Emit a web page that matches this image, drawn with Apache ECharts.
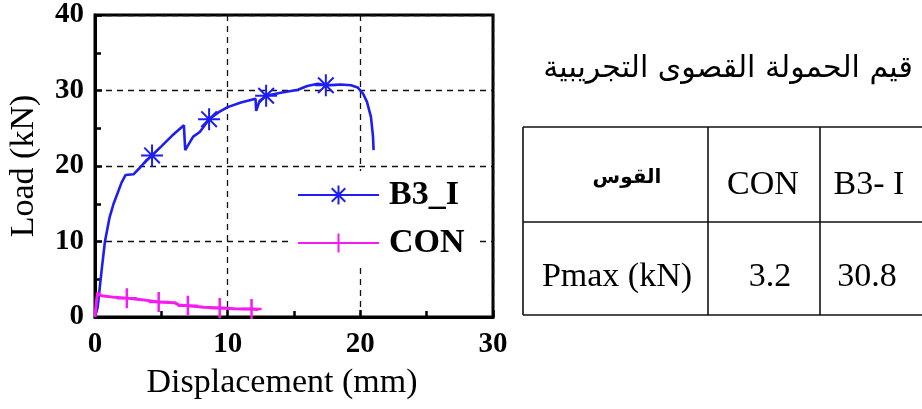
<!DOCTYPE html>
<html>
<head>
<meta charset="utf-8">
<script src="https://cdn.jsdelivr.net/npm/echarts@6/dist/echarts.min.js"></script>
<style>
html,body{margin:0;padding:0;background:#fff;}
#chart{width:922px;height:409px;}
</style>
</head>
<body>
<div id="chart"></div>
<script>
// ---- Data ----
const b3Disp = [0, 0.2, 0.5, 0.75, 1.1, 1.4, 1.7, 2.0, 2.3, 2.9, 3.4, 3.9, 4.3, 5.0, 5.8, 6.7, 6.8, 7.4, 7.9, 8.6, 9.3, 10.0, 11.0, 12.1, 12.15, 12.4, 12.9, 14.0, 15.3, 16.0, 16.8, 17.4, 18.5, 19.3, 19.8, 20.2, 20.5, 20.8, 20.95, 21.0];
const b3Load = [0, 1.3, 6.2, 10.0, 13.2, 15.0, 16.4, 17.8, 18.8, 18.9, 19.8, 20.8, 21.4, 22.6, 24.0, 25.4, 22.1, 23.9, 24.5, 26.2, 27.1, 27.8, 28.4, 28.9, 27.3, 28.6, 29.3, 29.7, 30.1, 30.6, 30.9, 30.7, 30.8, 30.7, 30.4, 29.6, 28.5, 26.5, 24.0, 22.1];
const b3MarkerIdx = [12, 19, 26, 31];

const conDisp = [0, 0.1, 0.2, 0.5, 1.5, 2.4, 3.5, 4.8, 6.0, 6.3, 7.0, 8.2, 9.4, 10.5, 11.8, 12.3];
const conLoad = [0, 2.0, 3.2, 2.8, 2.6, 2.5, 2.3, 2.0, 1.9, 1.6, 1.5, 1.3, 1.2, 1.1, 1.05, 1.0];
const conMarkerIdx = [5, 7, 10, 12, 14];

const xTicks = [0, 10, 20, 30];
const yTicks = [0, 10, 20, 30, 40];

const seriesNames = ['B3_I', 'CON'];
const tableTitle = 'قيم الحمولة القصوى التجريبية';
const tableHeader = ['القوس', 'CON', 'B3- I'];
const tableRow = ['Pmax (kN)', '3.2', '30.8'];

// ---- Build ----
const SERIF = "'Liberation Serif', 'Times New Roman', 'DejaVu Serif', serif";
const BLUE = '#1e1ef0';
const MAGENTA = '#f41cf0';
const STAR = 'path://M0,-10L0,10M-10,0L10,0M-7.07,-7.07L7.07,7.07M-7.07,7.07L7.07,-7.07';
const PLUS = 'path://M0,-10L0,10M-10,0L10,0';

function buildData(xs, ys, marks) {
  return xs.map((x, i) => marks.indexOf(i) >= 0 ? { value: [x, ys[i]] } : { value: [x, ys[i]], symbol: 'none' });
}

const axisCommon = {
  type: 'value',
  axisLine: { show: true, lineStyle: { color: '#000', width: 3 } },
  axisTick: { show: true, inside: true, length: 7, lineStyle: { color: '#000', width: 2.5 } },
  minorTick: { show: true, splitNumber: 2, length: 6, lineStyle: { color: '#000', width: 2.5 } },
  splitLine: { show: true, lineStyle: { color: '#111', width: 1.3, type: [6, 5] } },
  axisLabel: { color: '#000', fontFamily: SERIF, fontWeight: 'bold', fontSize: 29 },
  nameLocation: 'middle',
  nameTextStyle: { color: '#000', fontFamily: SERIF, fontSize: 34 }
};

const chart = echarts.init(document.getElementById('chart'), null, { renderer: 'canvas' });

const tL = 523, tR = 922, tT = 127, tM = 222, tB = 315, c1 = 708, c2 = 820;
const lineStyle = { stroke: '#111', lineWidth: 1.6 };
const cellFont = "34px " + SERIF;
const graphics = [
  { type: 'line', shape: { x1: tL, y1: tT, x2: tR, y2: tT }, style: lineStyle },
  { type: 'line', shape: { x1: tL, y1: tM, x2: tR, y2: tM }, style: lineStyle },
  { type: 'line', shape: { x1: tL, y1: tB, x2: tR, y2: tB }, style: lineStyle },
  { type: 'line', shape: { x1: tL, y1: tT, x2: tL, y2: tB }, style: lineStyle },
  { type: 'line', shape: { x1: c1, y1: tT, x2: c1, y2: tB }, style: lineStyle },
  { type: 'line', shape: { x1: c2, y1: tT, x2: c2, y2: tB }, style: lineStyle },
  { type: 'text', x: 728, y: 69, style: { text: tableTitle, font: "30px 'DejaVu Sans', sans-serif", fill: '#000', align: 'center', verticalAlign: 'middle' } },
  { type: 'text', x: 627, y: 178, style: { text: tableHeader[0], font: "bold 20px 'DejaVu Sans', sans-serif", fill: '#000', align: 'center', verticalAlign: 'middle' } },
  { type: 'text', x: 763, y: 185, style: { text: tableHeader[1], font: cellFont, fill: '#000', align: 'center', verticalAlign: 'middle' } },
  { type: 'text', x: 869, y: 185, style: { text: tableHeader[2], font: cellFont, fill: '#000', align: 'center', verticalAlign: 'middle' } },
  { type: 'text', x: 617, y: 277, style: { text: tableRow[0], font: cellFont, fill: '#000', align: 'center', verticalAlign: 'middle' } },
  { type: 'text', x: 770, y: 277, style: { text: tableRow[1], font: cellFont, fill: '#000', align: 'center', verticalAlign: 'middle' } },
  { type: 'text', x: 867, y: 277, style: { text: tableRow[2], font: cellFont, fill: '#000', align: 'center', verticalAlign: 'middle' } }
];

const option = {
  animation: false,
  backgroundColor: '#fff',
  grid: { left: 95, right: 429, top: 15, bottom: 92, show: true, borderColor: '#000', borderWidth: 3, backgroundColor: 'transparent' },
  xAxis: Object.assign({}, axisCommon, {
    min: xTicks[0], max: xTicks[xTicks.length - 1], interval: xTicks[1] - xTicks[0],
    name: 'Displacement (mm)', nameGap: 49,
    axisLabel: Object.assign({}, axisCommon.axisLabel, { margin: 13 }),
    nameTextStyle: Object.assign({}, axisCommon.nameTextStyle, { padding: [0, 24, 0, 0] })
  }),
  yAxis: Object.assign({}, axisCommon, {
    min: yTicks[0], max: yTicks[yTicks.length - 1], interval: yTicks[1] - yTicks[0],
    name: 'Load (kN)', nameGap: 54,
    axisLabel: Object.assign({}, axisCommon.axisLabel, { margin: 11 })
  }),
  legend: {
    data: seriesNames,
    orient: 'vertical', left: 292, top: 171,
    itemWidth: 81, itemHeight: 24, itemGap: 12,
    backgroundColor: '#fff', padding: [6, 12, 6, 5],
    textStyle: { color: '#000', fontFamily: SERIF, fontWeight: 'bold', fontSize: 34, lineHeight: 36, padding: [0, 0, 0, 5] }
  },
  series: [
    {
      name: seriesNames[0], type: 'line', data: buildData(b3Disp, b3Load, b3MarkerIdx),
      symbol: STAR, symbolSize: 22, showSymbol: true,
      lineStyle: { color: BLUE, width: 2.6 },
      itemStyle: { color: 'rgba(0,0,0,0)', borderColor: BLUE, borderWidth: 2 },
      z: 3
    },
    {
      name: seriesNames[1], type: 'line', data: buildData(conDisp, conLoad, conMarkerIdx),
      symbol: PLUS, symbolSize: 20, showSymbol: true,
      lineStyle: { color: MAGENTA, width: 3 },
      itemStyle: { color: 'rgba(0,0,0,0)', borderColor: MAGENTA, borderWidth: 2.5 },
      z: 4
    }
  ],
  graphic: graphics
};
chart.setOption(option);
</script>
</body>
</html>
